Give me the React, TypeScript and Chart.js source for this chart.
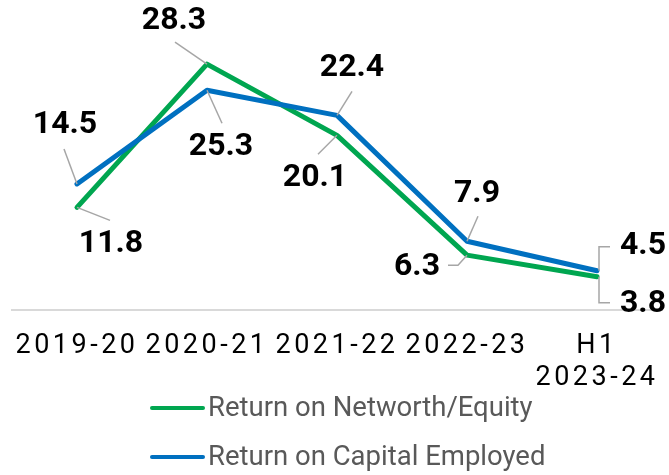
import React, { useEffect, useRef } from 'react';
import { Chart, registerables } from 'chart.js';

Chart.register(...registerables);

// ---- data ----
const categories: (string | string[])[] = ['2019-20', '2020-21', '2021-22', '2022-23', ['H1', '2023-24']];
const networthValues = [11.8, 28.3, 20.1, 6.3, 3.8];
const capitalValues = [14.5, 25.3, 22.4, 7.9, 4.5];
const networthName = 'Return on Networth/Equity';
const capitalName = 'Return on Capital Employed';
const yMin = 0;
const yMax = 35;

// ---- styles ----
const GREEN = '#00A650';
const BLUE = '#0070C0';
const LEADER = '#A6A6A6';
const FONT = 'Roboto, "Noto Sans", sans-serif';

// callout placement relative to each point: label centre offset + leader path
type Callout = { label: [number, number]; path: [number, number][] };
const networthCallouts: Callout[] = [
  { label: [34, 37], path: [[0, 0], [33, 13]] },
  { label: [-33, -43], path: [[0, 0], [-32, -22]] },
  { label: [-22, 43], path: [[0, 0], [-19, 19]] },
  { label: [-50, 12], path: [[0, 0], [-9, 10], [-19, 10]] },
  { label: [46, 27], path: [[2, 0], [2, 26], [13, 26]] },
];
const capitalCallouts: Callout[] = [
  { label: [-12, -59], path: [[0, 0], [-13, -35]] },
  { label: [14, 57], path: [[0, 0], [15, 33]] },
  { label: [15, -47], path: [[0, 0], [15, -24]] },
  { label: [10, -47], path: [[0, 0], [11, -25]] },
  { label: [46, -25], path: [[2, 0], [2, -24], [13, -24]] },
];
const calloutSets = [networthCallouts, capitalCallouts];

const calloutPlugin = {
  id: 'callouts',
  afterDatasetsDraw(chart: any) {
    const ctx: CanvasRenderingContext2D = chart.ctx;
    chart.data.datasets.forEach((ds: any, di: number) => {
      const meta = chart.getDatasetMeta(di);
      const callouts = calloutSets[di];
      meta.data.forEach((pt: any, i: number) => {
        const c = callouts[i];
        if (!c) return;
        const x = pt.x;
        const y = pt.y;
        ctx.save();
        ctx.strokeStyle = LEADER;
        ctx.lineWidth = 1.5;
        ctx.beginPath();
        c.path.forEach(([dx, dy], k) => {
          if (k === 0) ctx.moveTo(x + dx, y + dy);
          else ctx.lineTo(x + dx, y + dy);
        });
        ctx.stroke();
        ctx.font = `bold 32px ${FONT}`;
        ctx.fillStyle = '#000000';
        ctx.textAlign = 'center';
        ctx.textBaseline = 'middle';
        ctx.fillText(Number(ds.data[i]).toFixed(1), x + c.label[0], y + c.label[1]);
        ctx.restore();
      });
    });
  },
};

// legend drawn as a left-aligned block of rows under the axis (Excel style)
const legendPlugin = {
  id: 'blockLegend',
  afterDraw(chart: any) {
    const ctx: CanvasRenderingContext2D = chart.ctx;
    const left = 152;
    const firstRowY = 408;
    const rowGap = 49;
    const markerLen = 51;
    chart.data.datasets.forEach((ds: any, i: number) => {
      const y = firstRowY + i * rowGap;
      ctx.save();
      ctx.strokeStyle = ds.borderColor;
      ctx.lineWidth = 4;
      ctx.lineCap = 'round';
      ctx.beginPath();
      ctx.moveTo(left, y);
      ctx.lineTo(left + markerLen, y);
      ctx.stroke();
      ctx.font = `27.5px ${FONT}`;
      ctx.fillStyle = '#595959';
      ctx.textAlign = 'left';
      ctx.textBaseline = 'middle';
      ctx.fillText(ds.label, left + markerLen + 5, y + 1);
      ctx.restore();
    });
  },
};

export default function App() {
  const canvasRef = useRef<HTMLCanvasElement | null>(null);

  useEffect(() => {
    const canvas = canvasRef.current;
    if (!canvas) return;
    const chart = new Chart(canvas, {
      type: 'line',
      data: {
        labels: categories,
        datasets: [
          {
            label: networthName,
            data: networthValues,
            borderColor: GREEN,
            backgroundColor: GREEN,
            borderWidth: 5,
            pointRadius: 0,
            tension: 0,
            borderJoinStyle: 'round',
            borderCapStyle: 'round',
            order: 1,
          },
          {
            label: capitalName,
            data: capitalValues,
            borderColor: BLUE,
            backgroundColor: BLUE,
            borderWidth: 5,
            pointRadius: 0,
            tension: 0,
            borderJoinStyle: 'round',
            borderCapStyle: 'round',
            order: 0,
          },
        ],
      },
      options: {
        responsive: false,
        animation: false,
        devicePixelRatio: 1,
        layout: { padding: { top: 6, left: 12, right: 7, bottom: 60 } },
        plugins: {
          legend: { display: false },
          tooltip: { enabled: false },
        },
        scales: {
          x: {
            offset: true,
            grid: { display: false, drawTicks: false },
            border: { display: true, color: '#D9D9D9', width: 2 },
            ticks: {
              color: '#000000',
              padding: 21,
              maxRotation: 0,
              autoSkip: false,
              font: { family: FONT, size: 27, lineHeight: 1.17 },
            },
            afterUpdate: (scale: any) => {
              if (scale.__spaced) return;
              scale.__spaced = true;
              const orig = scale.drawLabels.bind(scale);
              scale.drawLabels = (area: any) => {
                const ctx: any = scale.ctx;
                ctx.save();
                ctx.letterSpacing = '3.5px';
                orig(area);
                ctx.restore();
              };
            },
          },
          y: {
            display: false,
            min: yMin,
            max: yMax,
          },
        },
      },
      plugins: [calloutPlugin, legendPlugin],
    });
    return () => chart.destroy();
  }, []);

  return (
    <div
      style={{
        position: 'fixed',
        left: 0,
        top: 0,
        width: 669,
        height: 475,
        overflow: 'hidden',
        background: '#ffffff',
      }}
    >
      <canvas ref={canvasRef} width={669} height={475} style={{ display: 'block' }} />
    </div>
  );
}
